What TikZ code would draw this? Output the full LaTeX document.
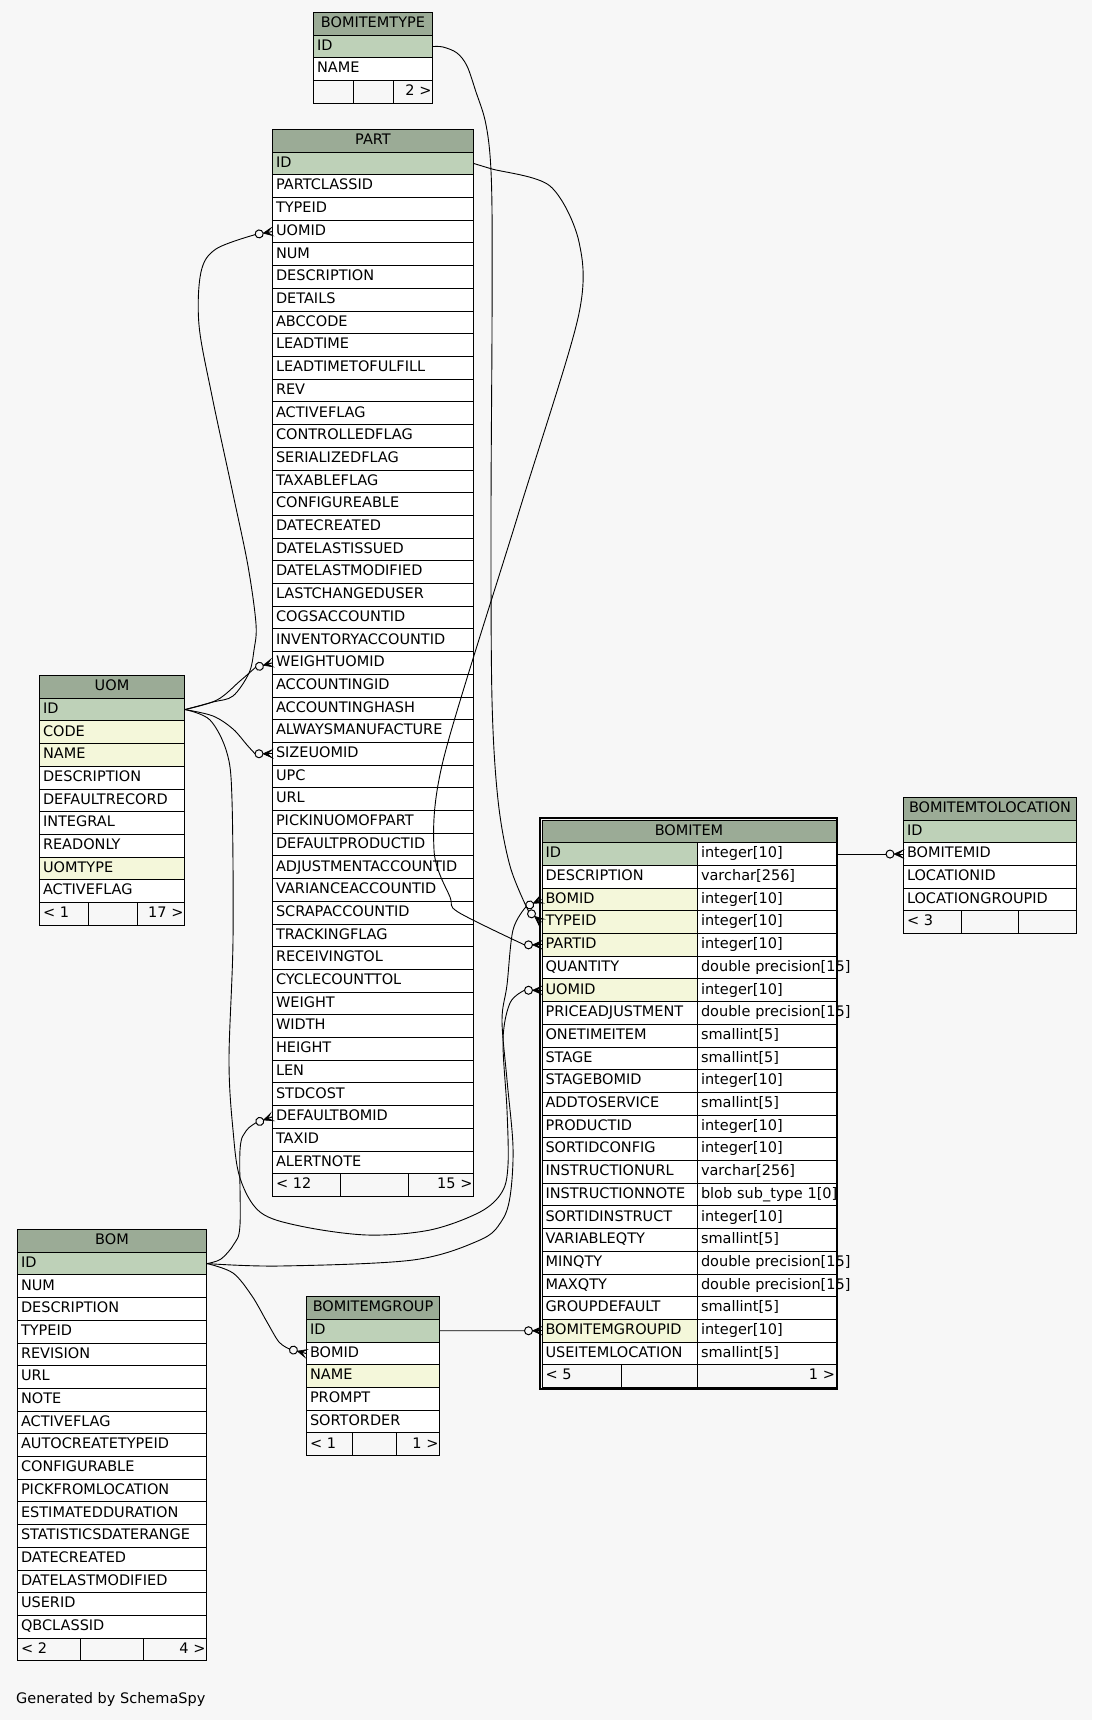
\documentclass[tikz,border=0pt]{standalone}
\usepackage{fontspec}
\newfontfamily\dvs{DejaVu Sans}
\newcommand\tabfont{\dvs\fontsize{14.5pt}{17pt}\selectfont}
\definecolor{bg}{HTML}{F7F7F7}
\definecolor{hd}{HTML}{9BAB96}
\definecolor{pk}{HTML}{BED1B8}
\definecolor{ix}{HTML}{F4F7DA}
\definecolor{wh}{HTML}{FFFFFF}
\tikzset{
  basecell/.style={rectangle, draw=black, line width=1pt, inner ysep=0pt, inner xsep=3.5pt,
    minimum height=22.7pt, text height=10.5pt, text depth=3pt, font=\tabfont,
    anchor=north west, align=left},
  cell/.style={basecell},
  hcell/.style={basecell, fill=hd, align=center},
  fcell/.style={basecell, fill=bg},
  edge/.style={draw=black, line width=0.9pt},
  fkmark/.pic={
    \filldraw[line width=0.6pt] (-9,0) -- (0,-4) -- (-4.5,0) -- (0,4) -- cycle;
    \draw[line width=1pt] (-4.5,0) -- (0,0);
    \draw[line width=1pt, fill=bg] (-13,0) circle[radius=4];
    \coordinate (-tail) at (-17,0);
  }
}
% #1 prefix, #2 x, #3 top, #4 width, #5 header, #6 list text/colour
\newcommand\tbl[6]{%
  \pgfmathsetmacro\tblw{#4-7}%
  \node[hcell, text width=\tblw pt] (#1-h) at (#2,#3) {#5};
  \foreach \ftxt/\fcol [count=\nn] in {#6} {
    \node[cell, fill=\fcol, text width=\tblw pt] (#1-\nn) at (#2,{#3+22.7*\nn}) {\ftxt};
  }
}
% #1 prefix, #2..#5 x splits, #6 y, #7 left text, #8 right text
\newcommand\ftr[8]{%
  \pgfmathsetmacro\fwa{#3-#2-7}\pgfmathsetmacro\fwb{#4-#3-7}\pgfmathsetmacro\fwc{#5-#4-2}%
  \node[fcell, text width=\fwa pt] (#1-fa) at (#2,#6) {#7};
  \node[fcell, text width=\fwb pt] (#1-fb) at (#3,#6) {};
  \node[fcell, text width=\fwc pt, inner xsep=1pt, align=right] (#1-fc) at (#4,#6) {#8};
}
\begin{document}
\begin{tikzpicture}[x=1pt,y=-1pt]
\useasboundingbox (0,0) rectangle (1092,1720);
\fill[bg] (0,0) rectangle (1092,1720);

% BOMITEMTYPE
\tbl{bt}{313}{12}{119}{BOMITEMTYPE}{ID/pk, NAME/wh}
\ftr{bt}{313}{353}{393}{432}{80.1}{}{2 >}

% PART
\tbl{part}{272}{129}{201}{PART}{ID/pk, PARTCLASSID/wh, TYPEID/wh, UOMID/wh, NUM/wh,
  DESCRIPTION/wh, DETAILS/wh, ABCCODE/wh, LEADTIME/wh, LEADTIMETOFULFILL/wh, REV/wh,
  ACTIVEFLAG/wh, CONTROLLEDFLAG/wh, SERIALIZEDFLAG/wh, TAXABLEFLAG/wh, CONFIGUREABLE/wh,
  DATECREATED/wh, DATELASTISSUED/wh, DATELASTMODIFIED/wh, LASTCHANGEDUSER/wh,
  COGSACCOUNTID/wh, INVENTORYACCOUNTID/wh, WEIGHTUOMID/wh, ACCOUNTINGID/wh,
  ACCOUNTINGHASH/wh, ALWAYSMANUFACTURE/wh, SIZEUOMID/wh, UPC/wh, URL/wh,
  PICKINUOMOFPART/wh, DEFAULTPRODUCTID/wh, ADJUSTMENTACCOUNTID/wh, VARIANCEACCOUNTID/wh,
  SCRAPACCOUNTID/wh, TRACKINGFLAG/wh, RECEIVINGTOL/wh, CYCLECOUNTTOL/wh, WEIGHT/wh,
  WIDTH/wh, HEIGHT/wh, LEN/wh, STDCOST/wh, DEFAULTBOMID/wh, TAXID/wh, ALERTNOTE/wh}
\ftr{part}{272}{340}{408}{473}{1173.2}{< 12}{15 >}

% UOM
\tbl{uom}{39}{675}{145}{UOM}{ID/pk, CODE/ix, NAME/ix, DESCRIPTION/wh, DEFAULTRECORD/wh,
  INTEGRAL/wh, READONLY/wh, UOMTYPE/ix, ACTIVEFLAG/wh}
\ftr{uom}{39}{88}{137}{184}{902}{< 1}{17 >}

% BOM
\tbl{bom}{17}{1229}{189}{BOM}{ID/pk, NUM/wh, DESCRIPTION/wh, TYPEID/wh, REVISION/wh, URL/wh,
  NOTE/wh, ACTIVEFLAG/wh, AUTOCREATETYPEID/wh, CONFIGURABLE/wh, PICKFROMLOCATION/wh,
  ESTIMATEDDURATION/wh, STATISTICSDATERANGE/wh, DATECREATED/wh, DATELASTMODIFIED/wh,
  USERID/wh, QBCLASSID/wh}
\ftr{bom}{17}{80}{143}{206}{1637.6}{< 2}{4 >}

% BOMITEMGROUP
\tbl{bg}{306}{1296.2}{133}{BOMITEMGROUP}{ID/pk, BOMID/wh, NAME/ix, PROMPT/wh, SORTORDER/wh}
\ftr{bg}{306}{352}{396}{439}{1432.4}{< 1}{1 >}

% BOMITEMTOLOCATION
\tbl{bl}{903}{796.8}{173}{BOMITEMTOLOCATION}{ID/pk, BOMITEMID/wh, LOCATIONID/wh, LOCATIONGROUPID/wh}
\ftr{bl}{903}{961}{1018}{1076}{910.3}{< 3}{}

% BOMITEM
\node[hcell, text width=287pt] (bi-h) at (541.5,819.5) {BOMITEM};
\foreach \ftxt/\fcol/\ftyp [count=\nn] in {ID/pk/integer[10], DESCRIPTION/wh/varchar[256],
  BOMID/ix/integer[10], TYPEID/ix/integer[10], PARTID/ix/integer[10],
  QUANTITY/wh/\mbox{double precision[15]}, UOMID/ix/integer[10],
  PRICEADJUSTMENT/wh/\mbox{double precision[15]}, ONETIMEITEM/wh/smallint[5],
  STAGE/wh/smallint[5], STAGEBOMID/wh/integer[10], ADDTOSERVICE/wh/smallint[5],
  PRODUCTID/wh/integer[10], SORTIDCONFIG/wh/integer[10], INSTRUCTIONURL/wh/varchar[256],
  INSTRUCTIONNOTE/wh/\mbox{blob sub\_type 1[0]}, SORTIDINSTRUCT/wh/integer[10],
  VARIABLEQTY/wh/smallint[5], MINQTY/wh/\mbox{double precision[15]},
  MAXQTY/wh/\mbox{double precision[15]}, GROUPDEFAULT/wh/smallint[5],
  BOMITEMGROUPID/ix/integer[10], USEITEMLOCATION/wh/smallint[5]} {
  \node[cell, fill=\fcol, text width=148.5pt] (bi-\nn) at (541.5,{819.5+22.7*\nn}) {\ftxt};
  \node[cell, fill=wh, text width=131.5pt] (bi-t\nn) at (697,{819.5+22.7*\nn}) {\ftyp};
}
\ftr{bi}{541.5}{621}{697}{835.5}{1364.3}{< 5}{1 >}
\draw[line width=2pt] (540,818) rectangle (837,1388.5);

% markers at child ends
\pic[rotate=10] (mUomid) at (part-4.west) {fkmark};
\pic[rotate=15] (mWeight) at (part-23.west) {fkmark};
\pic (mSize) at (part-27.west) {fkmark};
\pic[rotate=20] (mDefbom) at (part-43.west) {fkmark};
\pic[rotate=25] (mBomid) at (bi-3.west) {fkmark};
\pic[rotate=-40] (mTypeid) at (bi-4.west) {fkmark};
\pic (mPartid) at (bi-5.west) {fkmark};
\pic (mUomidB) at (bi-7.west) {fkmark};
\pic (mGroup) at (bi-22.west) {fkmark};
\pic[rotate=-15] (mGrpBom) at (bg-2.west) {fkmark};
\pic (mLoc) at (bl-2.west) {fkmark};

% connectors
\draw[edge] plot[smooth, tension=0.55] coordinates {(bt-1.east) (443,47) (457,53) (467,66)
  (476,92) (485,120) (490,155) (492,210) (492,330) (491,520) (492,700) (498,800) (510,866)
  (mTypeid-tail)};
\draw[edge] plot[smooth, tension=0.5] coordinates {(part-1.east) (492,169) (550,186) (579,242)
  (578,318) (518,515) (444,757) (434,850) (450,897) (458,912) (mPartid-tail)};
\draw[edge] plot[smooth, tension=0.55] coordinates {(bom-1.east) (280,1266) (413,1260) (480,1240)
  (501,1222) (510,1197) (513,1147) (507,1080) (502,1020) (507,985) (513,930) (mBomid-tail)};
\draw[edge] plot[smooth, tension=0.55] coordinates {(uom-1.east) (210,720) (227,753) (232,800)
  (233,940) (229,1060) (233,1130) (240,1178) (260,1212) (300,1226) (367,1235) (430,1230)
  (480,1212) (502,1192) (508,1165) (507,1110) (503,1040) (510,1003) (mUomidB-tail)};
\draw[edge] plot[smooth, tension=0.55] coordinates {(uom-1.east) (213,702) (233,696) (249,673)
  (254,650) (256,624) (248,566) (233,494) (212,396) (199,325) (201,272) (216,249)
  (mUomid-tail)};
\draw[edge] plot[smooth, tension=0.55] coordinates {(uom-1.east) (217,700) (240,681) (mWeight-tail)};
\draw[edge] plot[smooth, tension=0.55] coordinates {(uom-1.east) (213,716) (233,729) (247,745) (mSize-tail)};
\draw[edge] plot[smooth, tension=0.55] coordinates {(bom-1.east) (221,1259) (234,1244) (240,1225)
  (240,1150) (246,1131) (mDefbom-tail)};
\draw[edge] plot[smooth, tension=0.55] coordinates {(bom-1.east) (233,1273) (252,1296) (267,1322)
  (279,1342) (mGrpBom-tail)};
\draw[edge] (bg-1.east) -- (mGroup-tail);
\draw[edge] (bi-t1.east) -- (mLoc-tail);

\node[font=\tabfont, anchor=base west, inner sep=0pt] (gen) at (16,1703) {Generated by SchemaSpy};
\end{tikzpicture}
\end{document}
